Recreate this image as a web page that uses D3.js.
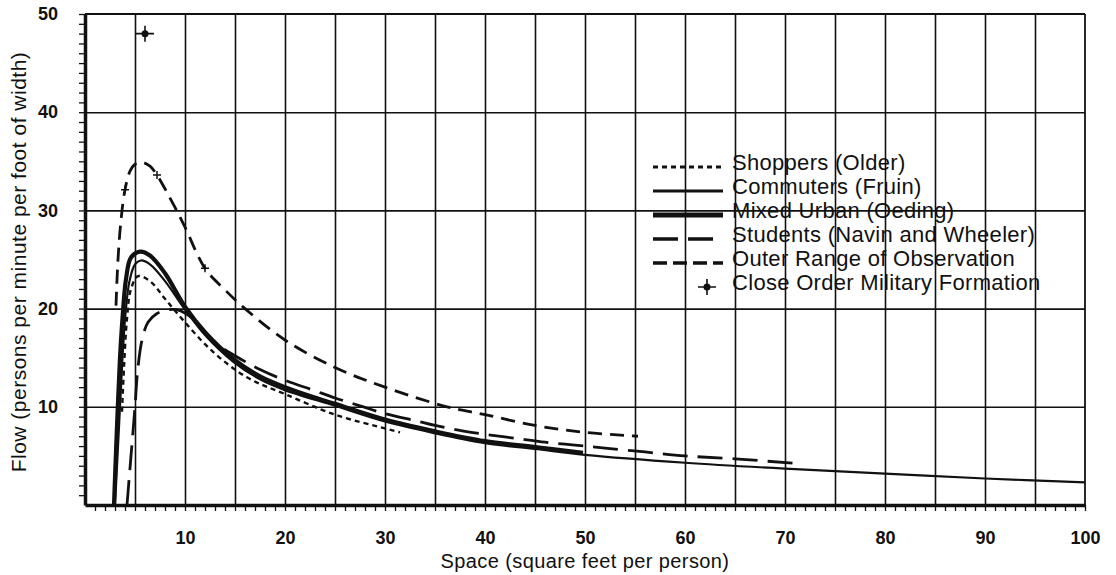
<!DOCTYPE html>
<html>
<head>
<meta charset="utf-8">
<script src="https://cdn.jsdelivr.net/npm/d3@7"></script>
<style>
  body { margin: 0; background: #fff; }
  text { font-family: "Liberation Sans", Arial, sans-serif; fill: #111; }
</style>
</head>
<body>
<div id="chart"></div>
<script>
// Pedestrian flow vs space curves

// ---- data ----
var shoppersX = [3.7, 3.9, 4.2, 4.6, 5.3, 6.5, 8, 10, 12.8, 16.2, 20, 25, 30, 31.5];
var shoppersY = [9.5, 14, 19, 22, 23.3, 22.8, 21, 18.6, 15.6, 13.0, 11.3, 9.2, 7.8, 7.4];

var commutersX = [3.0, 3.4, 3.75, 4.05, 4.45, 5.0, 5.6, 6.5, 8, 10, 12, 14.8, 17.5, 20, 25, 30, 35, 40, 45, 50, 60, 70, 80, 90, 100];
var commutersY = [0, 8, 15, 19.5, 22.8, 24.5, 24.9, 24.5, 22.8, 19.9, 17.3, 14.6, 12.8, 11.7, 10.1, 8.5, 7.3, 6.3, 5.7, 5.1, 4.3, 3.7, 3.2, 2.7, 2.3];

var mixedX = [2.9, 3.2, 3.5, 3.75, 4.1, 4.6, 5.5, 6.5, 8, 10, 12, 14.8, 17.5, 20, 22.5, 25, 30, 35, 40, 45, 49.8];
var mixedY = [0, 8, 15, 19, 23, 25.2, 25.8, 25.4, 23.6, 20.2, 17.6, 14.9, 13.1, 12.0, 11.1, 10.3, 8.7, 7.5, 6.5, 5.9, 5.3];

var studentsX = [4.2, 4.6, 5.0, 5.25, 5.7, 6.3, 7.2, 8.5, 9.5, 10.5, 12.8, 15, 17.5, 20, 22.8, 25, 27.5, 30, 33, 35, 38, 40, 43, 46, 49, 52, 56, 60, 65, 71.5];
var studentsY = [0, 5, 10, 13.5, 16.8, 18.6, 19.5, 19.9, 19.8, 19.2, 16.7, 15.2, 13.8, 12.7, 11.7, 10.9, 10.1, 9.3, 8.6, 8.1, 7.5, 7.2, 6.8, 6.4, 6.1, 5.8, 5.4, 5.0, 4.7, 4.2];

var outerX = [3.1, 3.3, 3.6, 4.0, 4.5, 5.0, 5.7, 6.5, 7.2, 8, 9, 10, 12, 14, 16, 20, 25, 30, 36.2, 40, 45, 50, 55.3];
var outerY = [20.3, 25, 29, 32.1, 34.0, 34.7, 34.9, 34.5, 33.6, 32.2, 30.3, 28.3, 24.1, 21.9, 20.0, 16.8, 14.0, 12.0, 10.0, 9.2, 8.1, 7.4, 7.0];

var outerMarkX = [4.0, 7.2, 12];
var outerMarkY = [32.1, 33.6, 24.1];

var militaryX = [6.0];
var militaryY = [48.0];

var legendLabels = ["Shoppers (Older)", "Commuters (Fruin)", "Mixed Urban (Oeding)",
                    "Students (Navin and Wheeler)", "Outer Range of Observation",
                    "Close Order Military Formation"];

var xTickLabels = [10, 20, 30, 40, 50, 60, 70, 80, 90, 100];
var yTickLabels = [10, 20, 30, 40, 50];

// ---- styles ----
var seriesStyle = [
  {width: 2.4, dash: "5,4"},
  {width: 2.2, dash: null},
  {width: 4.2, dash: null},
  {width: 2.8, dash: "25,10"},
  {width: 2.8, dash: "14,8"}
];
var seriesData = [
  [shoppersX, shoppersY],
  [commutersX, commutersY],
  [mixedX, mixedY],
  [studentsX, studentsY],
  [outerX, outerY]
];

var svgWidth = 1116;
var svgHeight = 575;
var margin = {top: 14, right: 31, bottom: 70, left: 85};
var width = svgWidth - margin.left - margin.right;
var height = svgHeight - margin.top - margin.bottom;

var svg = d3.select("#chart")
  .append("svg")
  .attr("width", svgWidth)
  .attr("height", svgHeight);

var chartGroup = svg.append("g")
  .attr("transform", `translate(${margin.left}, ${margin.top})`);

var xScale = d3.scaleLinear().domain([0, 100]).range([0, width]);
var yScale = d3.scaleLinear().domain([0, 50]).range([height, 0]);

var ink = "#111";

// grid: vertical every 5, horizontal every 10
chartGroup.append("g")
  .attr("transform", `translate(0, ${height})`)
  .call(d3.axisBottom(xScale).tickValues(d3.range(5, 100, 5)).tickSize(-height).tickFormat(""))
  .call(g => g.select(".domain").remove())
  .call(g => g.selectAll("line").attr("stroke", ink).attr("stroke-width", 1.6));

chartGroup.append("g")
  .call(d3.axisLeft(yScale).tickValues([10, 20, 30, 40]).tickSize(-width).tickFormat(""))
  .call(g => g.select(".domain").remove())
  .call(g => g.selectAll("line").attr("stroke", ink).attr("stroke-width", 1.6));

// frame top and right
chartGroup.append("line")
  .attr("x1", xScale(0)).attr("x2", xScale(100))
  .attr("y1", yScale(50)).attr("y2", yScale(50))
  .attr("stroke", ink).attr("stroke-width", 2.2);
chartGroup.append("line")
  .attr("x1", xScale(100)).attr("x2", xScale(100))
  .attr("y1", yScale(50)).attr("y2", yScale(0))
  .attr("stroke", ink).attr("stroke-width", 1.8);

// minor ticks
chartGroup.append("g")
  .attr("transform", `translate(0, ${height})`)
  .call(d3.axisBottom(xScale).tickValues(d3.range(1, 101)).tickSize(6).tickFormat("").tickSizeOuter(0))
  .call(g => g.select(".domain").attr("stroke", ink).attr("stroke-width", 3.5))
  .call(g => g.selectAll("line").attr("stroke", ink).attr("stroke-width", 1.3));

chartGroup.append("g")
  .call(d3.axisLeft(yScale).tickValues(d3.range(1, 51)).tickSize(6).tickFormat("").tickSizeOuter(0))
  .call(g => g.select(".domain").attr("stroke", ink).attr("stroke-width", 3.5))
  .call(g => g.selectAll("line").attr("stroke", ink).attr("stroke-width", 1.3));

// tick labels
chartGroup.append("g")
  .attr("transform", `translate(0, ${height})`)
  .call(d3.axisBottom(xScale).tickValues(xTickLabels).tickSize(0).tickPadding(26))
  .call(g => g.select(".domain").remove())
  .call(g => g.selectAll("text").attr("font-size", 18).attr("font-weight", "bold")
    .attr("font-family", "Liberation Sans, Arial, sans-serif").attr("fill", ink));

chartGroup.append("g")
  .call(d3.axisLeft(yScale).tickValues(yTickLabels).tickSize(0).tickPadding(27))
  .call(g => g.select(".domain").remove())
  .call(g => g.selectAll("text").attr("font-size", 18).attr("font-weight", "bold")
    .attr("font-family", "Liberation Sans, Arial, sans-serif").attr("fill", ink));

// curves
var line = d3.line()
  .x(d => xScale(d[0]))
  .y(d => yScale(d[1]))
  .curve(d3.curveCatmullRom.alpha(0.5));

seriesData.forEach(function (s, i) {
  var pts = s[0].map((x, j) => [x, s[1][j]]);
  chartGroup.append("path")
    .datum(pts)
    .attr("d", line)
    .attr("fill", "none")
    .attr("stroke", ink)
    .attr("stroke-width", seriesStyle[i].width)
    .attr("stroke-dasharray", seriesStyle[i].dash);
});

// small crosses on the outer range curve
outerMarkX.forEach(function (x, j) {
  var cx = xScale(x), cy = yScale(outerMarkY[j]);
  chartGroup.append("path")
    .attr("d", `M${cx - 4},${cy}H${cx + 4}M${cx},${cy - 4}V${cy + 4}`)
    .attr("stroke", ink).attr("stroke-width", 1.5);
});

function militaryMark(g, cx, cy) {
  g.append("path")
    .attr("d", `M${cx - 9},${cy}H${cx + 9}M${cx},${cy - 8}V${cy + 8}`)
    .attr("stroke", ink).attr("stroke-width", 1.6);
  g.append("circle").attr("cx", cx).attr("cy", cy).attr("r", 3.5).attr("fill", ink);
}

militaryX.forEach(function (x, j) {
  militaryMark(chartGroup, xScale(x), yScale(militaryY[j]));
});

// legend
var legend = svg.append("g").attr("transform", "translate(653, 167)");
legendLabels.forEach(function (label, i) {
  var ly = i * 24;
  if (i < 5) {
    legend.append("line")
      .attr("x1", 0).attr("x2", 70)
      .attr("y1", ly).attr("y2", ly)
      .attr("stroke", ink)
      .attr("stroke-width", seriesStyle[i].width + 0.6)
      .attr("stroke-dasharray", i === 3 ? "25,10" : (i === 4 ? "14,6" : seriesStyle[i].dash));
  } else {
    militaryMark(legend, 54, ly);
  }
  legend.append("text")
    .attr("x", 79)
    .attr("y", ly + 3)
    .attr("font-size", 22)
    .attr("letter-spacing", 0.3)
    .text(label);
});

// axis titles
svg.append("text")
  .attr("x", margin.left + width / 2)
  .attr("y", 568)
  .attr("text-anchor", "middle")
  .attr("font-size", 20)
  .attr("letter-spacing", 0.4)
  .text("Space (square feet per person)");

svg.append("text")
  .attr("transform", "rotate(-90)")
  .attr("x", -262)
  .attr("y", 26)
  .attr("text-anchor", "middle")
  .attr("font-size", 21)
  .attr("letter-spacing", 0.5)
  .text("Flow (persons per minute per foot of width)");
</script>
</body>
</html>
